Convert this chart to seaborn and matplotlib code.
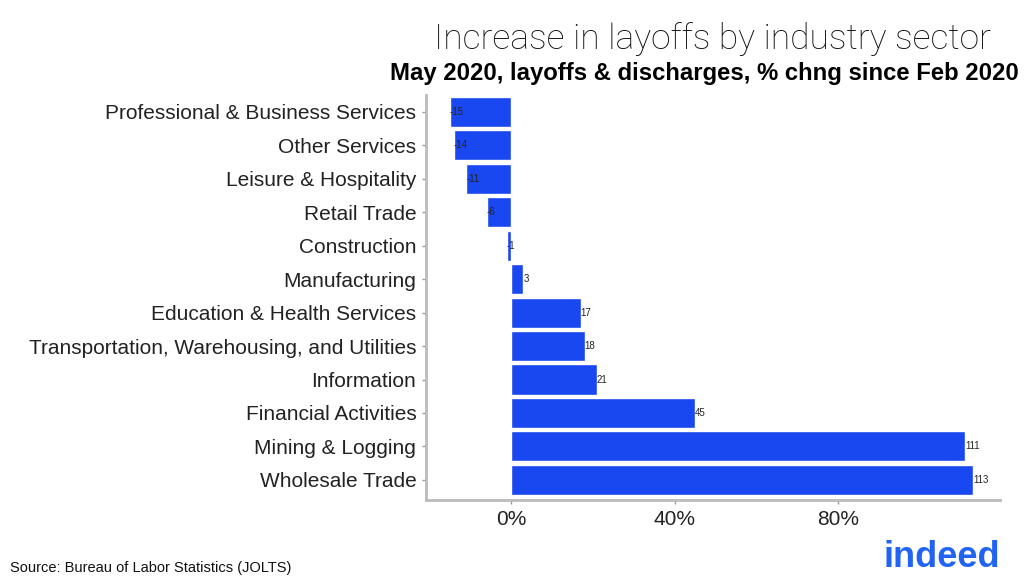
import matplotlib
matplotlib.use("Agg")
import matplotlib.pyplot as plt
import seaborn as sns
import pandas as pd
from matplotlib.ticker import FuncFormatter

sectors = ["Professional & Business Services", "Other Services", "Leisure & Hospitality",
           "Retail Trade", "Construction", "Manufacturing", "Education & Health Services",
           "Transportation, Warehousing, and Utilities", "Information", "Financial Activities",
           "Mining & Logging", "Wholesale Trade"]
pct_change = [-15, -14, -11, -6, -1, 3, 17, 18, 21, 45, 111, 113]

df = pd.DataFrame({"sector": sectors, "change": pct_change})

sns.set_style("white")
plt.rcParams['font.family'] = ['Liberation Sans', 'DejaVu Sans']

fig = plt.figure(figsize=(10.24, 5.82), dpi=100)
ax = fig.add_axes([0.416, 0.141, 0.561, 0.696])

sns.barplot(data=df, x="change", y="sector", orient="h", color="#1a48f0",
            saturation=1, width=0.9, ax=ax)

for i, v in enumerate(df["change"]):
    ax.text(v, i, str(v), ha="left", va="center", fontsize=7, color="#222222")

ax.set_xlim(-20.8, 119.6)
ax.set_ylim(11.6, -0.51)
ax.set_xticks([0, 40, 80])
ax.xaxis.set_major_formatter(FuncFormatter(lambda x, p: f"{x:.0f}%"))
ax.set_xlabel("")
ax.set_ylabel("")

for s in ["top", "right"]:
    ax.spines[s].set_visible(False)
for s in ["left", "bottom"]:
    ax.spines[s].set_color("#bbbbbb")
    ax.spines[s].set_linewidth(2)
ax.tick_params(axis="both", length=3, color="#999999", width=1, bottom=True, left=True)
ax.tick_params(axis="y", labelsize=15, labelcolor="#222222", pad=4)
ax.tick_params(axis="x", labelsize=15, labelcolor="#222222", pad=4)

fig.text(0.696, 0.915, "Increase in layoffs by industry sector", ha="center", va="baseline",
         fontsize=25.5, color="#111111", family=["Roboto", "DejaVu Sans"], fontweight="light")
# subtitle is clipped at the right edge in the original; keep it just inside
fig.text(0.995, 0.862, "May 2020, layoffs & discharges, % chng since Feb 2020", ha="right",
         va="baseline", fontsize=17.2, fontweight="bold", color="#000000")
fig.text(0.01, 0.018, "Source: Bureau of Labor Statistics (JOLTS)", fontsize=10.5, color="#111111")
fig.text(0.977, 0.025, "indeed", ha="right", va="baseline", fontsize=26, fontweight="bold",
         color="#2164f3")

fig.savefig("out.png", dpi=100)
